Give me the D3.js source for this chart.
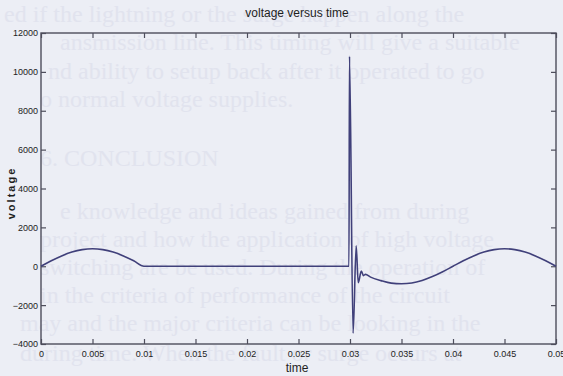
<!DOCTYPE html>
<html>
<head>
<meta charset="utf-8">
<script src="https://cdn.jsdelivr.net/npm/d3@7"></script>
<style>
  body { margin: 0; background: #eceef5; }
  svg { display: block; }
</style>
</head>
<body>
<div id="chart"></div>
<script>
// values
const time = [
  0, 0.001, 0.002, 0.003, 0.004, 0.005, 0.006, 0.007, 0.008, 0.009, 0.01,
  0.0299, 0.02995, 0.0303, 0.0306, 0.0308, 0.0311, 0.0313, 0.0315,
  0.032, 0.033, 0.034, 0.035, 0.036, 0.037, 0.038, 0.039, 0.04,
  0.041, 0.042, 0.043, 0.044, 0.045, 0.046, 0.047, 0.048, 0.049, 0.05
];
const voltage = [
  0, 280, 530, 730, 855, 900, 855, 730, 530, 280, 0,
  0, 10800, -3450, 1050, -850, -250, -480, -420,
  -560, -740, -870, -900, -860, -730, -530, -280, 0,
  280, 530, 730, 855, 900, 855, 730, 530, 280, 0
];
const xTicks = [0, 0.005, 0.01, 0.015, 0.02, 0.025, 0.03, 0.035, 0.04, 0.045, 0.05];
const yTicks = [-4000, -2000, 0, 2000, 4000, 6000, 8000, 10000, 12000];

// faint page text showing through the scan
const pageLines = [
  {x: 4, y: 22, t: 'ed if the lightning or the surge happen along the'},
  {x: 60, y: 50, t: 'ansmission line. This timing will give a suitable'},
  {x: 48, y: 79, t: 'nd ability to setup back after it operated to go'},
  {x: 40, y: 107, t: 'o normal voltage supplies.'},
  {x: 40, y: 166, t: '6. CONCLUSION'},
  {x: 60, y: 219, t: 'e knowledge and ideas gained from during'},
  {x: 40, y: 247, t: 'project and how the application of high voltage'},
  {x: 40, y: 275, t: 'switching are be used. During the operation of'},
  {x: 40, y: 303, t: 'in the criteria of performance of the circuit'},
  {x: 20, y: 331, t: 'may and the major criteria can be looking in the'},
  {x: 20, y: 361, t: 'during time. When the fault or surge occurs at'}
];

const W = 563, H = 376;
const margin = {top: 33, right: 7, bottom: 32, left: 41};
const width = W - margin.left - margin.right;
const height = H - margin.top - margin.bottom;

const svg = d3.select('#chart').append('svg')
  .attr('width', W)
  .attr('height', H);

svg.append('rect').attr('width', W).attr('height', H).attr('fill', '#eceef5');

svg.append('g')
  .selectAll('text')
  .data(pageLines)
  .enter()
  .append('text')
  .attr('x', d => d.x)
  .attr('y', d => d.y)
  .attr('font-family', 'Liberation Serif, serif')
  .attr('font-size', 24)
  .attr('fill', '#e1e3ee')
  .text(d => d.t);

const g = svg.append('g')
  .attr('transform', `translate(${margin.left},${margin.top})`);

const x = d3.scaleLinear().domain([0, 0.05]).range([0, width]);
const y = d3.scaleLinear().domain([-4000, 12000]).range([height, 0]);

const axisColor = '#4e4e5c';
const tickFont = 'Liberation Sans Narrow, Arial Narrow, sans-serif';

function styleAxis(sel, showLabels) {
  sel.select('.domain').remove();
  sel.selectAll('line').attr('stroke', axisColor).attr('stroke-width', 1.2);
  sel.selectAll('text')
    .attr('font-family', tickFont)
    .attr('font-size', 9)
    .attr('fill', '#222');
  if (!showLabels) sel.selectAll('text').remove();
}

// ticks point inward like matlab
g.append('g')
  .attr('transform', `translate(0,${height})`)
  .call(d3.axisBottom(x).tickValues(xTicks).tickSize(-5).tickPadding(7).tickFormat(d3.format('')))
  .call(s => styleAxis(s, true));
g.append('g')
  .call(d3.axisTop(x).tickValues(xTicks).tickSize(-5))
  .call(s => styleAxis(s, false));
g.append('g')
  .call(d3.axisLeft(y).tickValues(yTicks).tickSize(-5).tickPadding(3).tickFormat(d3.format('')))
  .call(s => styleAxis(s, true));
g.append('g')
  .attr('transform', `translate(${width},0)`)
  .call(d3.axisRight(y).tickValues(yTicks).tickSize(-5))
  .call(s => styleAxis(s, false));

g.append('rect')
  .attr('width', width)
  .attr('height', height)
  .attr('fill', 'none')
  .attr('stroke', axisColor)
  .attr('stroke-width', 1.4);

const pts = time.map((t, i) => [t, voltage[i]]);
const line = d3.line()
  .x(d => x(d[0]))
  .y(d => y(d[1]))
  .curve(d3.curveMonotoneX);

g.append('path')
  .datum(pts)
  .attr('d', line)
  .attr('fill', 'none')
  .attr('stroke', '#40407a')
  .attr('stroke-width', 1.6);

svg.append('text')
  .attr('x', 297)
  .attr('y', 17)
  .attr('text-anchor', 'middle')
  .attr('font-family', tickFont)
  .attr('font-size', 12)
  .attr('fill', '#1e1e1e')
  .text('voltage versus time');

svg.append('text')
  .attr('x', 297)
  .attr('y', 372)
  .attr('text-anchor', 'middle')
  .attr('font-family', tickFont)
  .attr('font-size', 12)
  .attr('fill', '#1e1e1e')
  .text('time');

svg.append('text')
  .attr('transform', 'translate(15,193) rotate(-90)')
  .attr('text-anchor', 'middle')
  .attr('font-family', 'Liberation Sans, Arial, sans-serif')
  .attr('font-size', 11)
  .attr('font-weight', 'bold')
  .attr('letter-spacing', 2)
  .attr('fill', '#1e1e1e')
  .text('voltage');
</script>
</body>
</html>
